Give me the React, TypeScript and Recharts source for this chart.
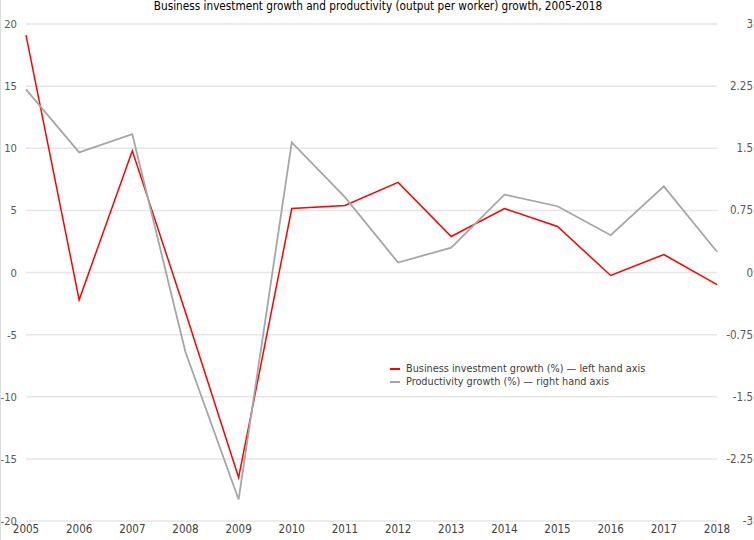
import React from 'react';
import { LineChart, Line, XAxis, YAxis, CartesianGrid } from 'recharts';

const years = ['2005','2006','2007','2008','2009','2010','2011','2012','2013','2014','2015','2016','2017','2018'];
const investment = [19.1, -2.2, 9.8, -3.2, -16.5, 5.15, 5.4, 7.25, 2.9, 5.15, 3.7, -0.24, 1.45, -0.97];
const productivity = [2.21, 1.45, 1.67, -0.96, -2.74, 1.57, 0.91, 0.12, 0.30, 0.94, 0.80, 0.45, 1.04, 0.25];
const leftTicks = [-20, -15, -10, -5, 0, 5, 10, 15, 20];
const rightTicks = [-3, -2.25, -1.5, -0.75, 0, 0.75, 1.5, 2.25, 3];
const legendItems = [
  { color: '#ff0000', label: 'Business investment growth (%) \u2014 left hand axis' },
  { color: '#a6a6a6', label: 'Productivity growth (%) \u2014 right hand axis' },
];

const data = years.map((y, i) => ({ year: y, inv: investment[i], prod: productivity[i] }));

const FONT = '"DejaVu Sans Condensed", "DejaVu Sans", sans-serif';
const TXT = '#595959';

const LeftTick = (props: any) => {
  const { x, y, payload } = props;
  return (
    <text x={x - 1} y={y} dy={4} textAnchor="end" fontSize={11.2} fill={TXT} fontFamily={FONT}>
      {payload.value}
    </text>
  );
};

const RightTick = (props: any) => {
  const { x, y, payload } = props;
  return (
    <text x={x + 28} y={y} dy={4} textAnchor="end" fontSize={11.5} fill={TXT} fontFamily={FONT}>
      {payload.value}
    </text>
  );
};

const BottomTick = (props: any) => {
  const { x, y, payload } = props;
  return (
    <text x={x} y={y} dy={4} textAnchor="middle" fontSize={11.5} fill="#404040" fontFamily={FONT}>
      {payload.value}
    </text>
  );
};

export default function App() {
  return (
    <div style={{ position: 'absolute', left: 0, top: 0, width: 754, height: 540, background: '#fff', borderLeft: '1px solid #dcdcdc', boxSizing: 'border-box' }}>
      <div style={{ position: 'absolute', left: 0, top: 0, width: 754, textAlign: 'center', fontFamily: FONT, fontSize: 11.7, color: '#000', lineHeight: '13px' }}>
        Business investment growth and productivity (output per worker) growth, 2005-2018
      </div>
      <LineChart width={753} height={540} data={data} margin={{ top: 24, right: 0, bottom: 0, left: 0 }}>
        <CartesianGrid vertical={false} stroke="#e6e6e6" strokeWidth={1.5} yAxisId="left" />
        <XAxis dataKey="year" axisLine={false} tickLine={false} height={19} tick={<BottomTick />} interval={0} padding={{ left: 0, right: 0 }} />
        <YAxis yAxisId="left" orientation="left" domain={[-20, 20]} ticks={leftTicks} width={25} axisLine={false} tickLine={false} tick={<LeftTick />} allowDataOverflow />
        <YAxis yAxisId="right" orientation="right" domain={[-3, 3]} ticks={rightTicks} width={37} axisLine={false} tickLine={false} tick={<RightTick />} allowDataOverflow />
        <Line yAxisId="left" type="linear" dataKey="inv" stroke="#ff0000" strokeWidth={1.5} dot={false} isAnimationActive={false} />
        <Line yAxisId="right" type="linear" dataKey="prod" stroke="#a6a6a6" strokeWidth={1.8} dot={false} isAnimationActive={false} />
      </LineChart>
      <div style={{ position: 'absolute', left: 389, top: 362, fontFamily: FONT, fontSize: 10.8, color: '#404040', lineHeight: '13px' }}>
        {legendItems.map((it) => (
          <div key={it.label} style={{ display: 'flex', alignItems: 'center' }}>
            <span style={{ display: 'inline-block', width: 10, height: 2, background: it.color, marginRight: 6 }} />
            <span>{it.label}</span>
          </div>
        ))}
      </div>
    </div>
  );
}
